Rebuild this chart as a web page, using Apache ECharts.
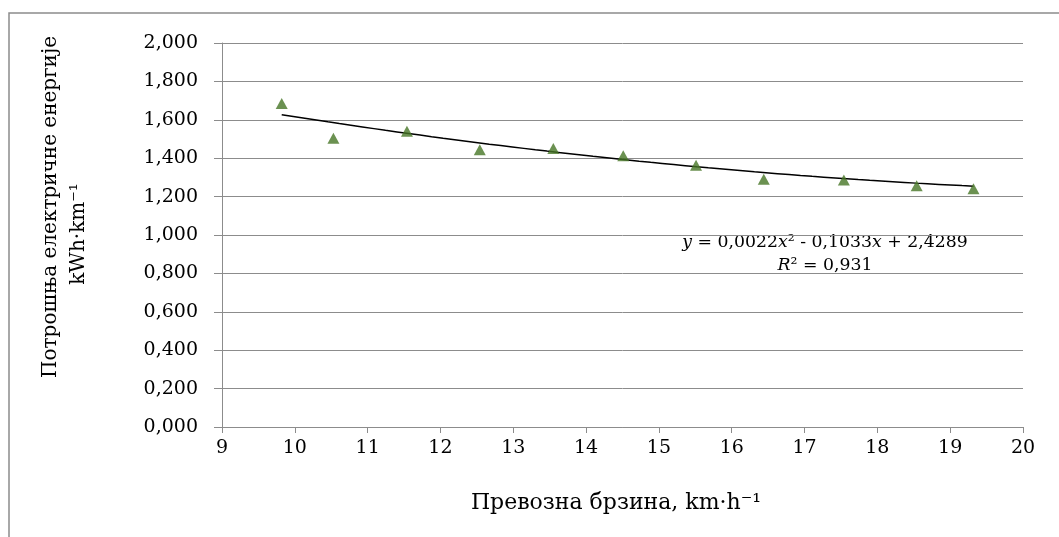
<!DOCTYPE html>
<html>
<head>
<meta charset="utf-8">
<script src="https://cdn.jsdelivr.net/npm/echarts@6/dist/echarts.min.js"></script>
<style>
  html, body { margin: 0; padding: 0; background: #ffffff; }
  #chart { width: 1059px; height: 537px; }
</style>
</head>
<body>
<div id="chart"></div>
<script>
// Transport speed (km/h) and electric energy consumption (kWh/km)
const speeds = [9.82, 10.53, 11.54, 12.54, 13.55, 14.51, 15.51, 16.44, 17.54, 18.54, 19.32];
const consumption = [1.685, 1.504, 1.540, 1.444, 1.450, 1.413, 1.363, 1.290, 1.286, 1.257, 1.241];

// Polynomial trend line coefficients (a2, a1, a0) as given in the equation label
const trendCoef = [0.0022, -0.1033, 2.4289];
const trendR2 = '0,931';

const xTicks = [9, 10, 11, 12, 13, 14, 15, 16, 17, 18, 19, 20];
const yTicks = [0, 0.2, 0.4, 0.6, 0.8, 1.0, 1.2, 1.4, 1.6, 1.8, 2.0];

const serif = '"DejaVu Serif", "Liberation Serif", serif';
const gridColor = '#8c8c8c';

// trend curve sampled across the measured speed range
const trendPts = [];
const x0 = speeds[0], x1 = speeds[speeds.length - 1];
for (let i = 0; i <= 60; i++) {
  const x = x0 + (x1 - x0) * i / 60;
  trendPts.push([x, trendCoef[0] * x * x + trendCoef[1] * x + trendCoef[2]]);
}

const fmt = v => v.toString().replace('.', ',');
const eqText = '{i|y} = ' + fmt(trendCoef[0]) + '{i|x}² - ' + fmt(Math.abs(trendCoef[1])) +
  '{i|x} + ' + fmt(trendCoef[2]);

const chart = echarts.init(document.getElementById('chart'));
chart.setOption({
  animation: false,
  backgroundColor: '#ffffff',
  grid: { left: 222, right: 36, top: 43, bottom: 110 },
  xAxis: {
    type: 'value',
    min: xTicks[0], max: xTicks[xTicks.length - 1], interval: 1,
    axisLine: { show: true, lineStyle: { color: gridColor, width: 1 } },
    axisTick: { show: true, length: 6, lineStyle: { color: gridColor } },
    splitLine: { show: false },
    axisLabel: { color: '#000', fontFamily: serif, fontSize: 19, margin: 12 }
  },
  yAxis: {
    type: 'value',
    min: yTicks[0], max: yTicks[yTicks.length - 1], interval: 0.2,
    axisLine: { show: true, lineStyle: { color: gridColor, width: 1 } },
    axisTick: { show: true, length: 8, lineStyle: { color: gridColor } },
    splitLine: { show: true, lineStyle: { color: gridColor, width: 1 } },
    axisLabel: {
      color: '#000', fontFamily: serif, fontSize: 19, margin: 24,
      formatter: v => v.toFixed(3).replace('.', ',')
    }
  },
  series: [
    {
      type: 'line',
      data: trendPts,
      showSymbol: false,
      smooth: false,
      lineStyle: { color: '#000', width: 1.5 },
      z: 3
    },
    {
      type: 'scatter',
      data: speeds.map((x, i) => [x, consumption[i]]),
      symbol: 'triangle',
      symbolSize: [12, 11],
      itemStyle: { color: '#467526' },
      z: 4
    }
  ],
  graphic: [
    {
      type: 'rect',
      shape: { x: 9, y: 13, width: 1080, height: 560 },
      style: { fill: 'none', stroke: '#8c8c8c', lineWidth: 1.5 },
      silent: true, z: -1
    },
    {
      type: 'text',
      style: {
        text: 'Превозна брзина, km·h⁻¹',
        x: 616, y: 503, align: 'center', verticalAlign: 'middle',
        font: '22px ' + serif, fill: '#000'
      }
    },
    {
      type: 'text', rotation: Math.PI / 2, x: 51, y: 207,
      style: {
        text: 'Потрошња електричне енергије', align: 'center', verticalAlign: 'middle',
        font: '20px ' + serif, fill: '#000'
      }
    },
    {
      type: 'text', rotation: Math.PI / 2, x: 79, y: 234,
      style: {
        text: 'kWh·km⁻¹', align: 'center', verticalAlign: 'middle',
        font: '20px ' + serif, fill: '#000'
      }
    },
    {
      type: 'text', x: 825, y: 243,
      style: {
        text: eqText, align: 'center', verticalAlign: 'middle',
        font: '17.3px ' + serif, fill: '#000',
        rich: { i: { fontStyle: 'italic', fontFamily: serif, fontSize: 17.3 } }
      }
    },
    {
      type: 'text', x: 825, y: 266,
      style: {
        text: '{i|R}² = ' + trendR2, align: 'center', verticalAlign: 'middle',
        font: '17.3px ' + serif, fill: '#000',
        rich: { i: { fontStyle: 'italic', fontFamily: serif, fontSize: 17.3 } }
      }
    }
  ]
});
</script>
</body>
</html>
